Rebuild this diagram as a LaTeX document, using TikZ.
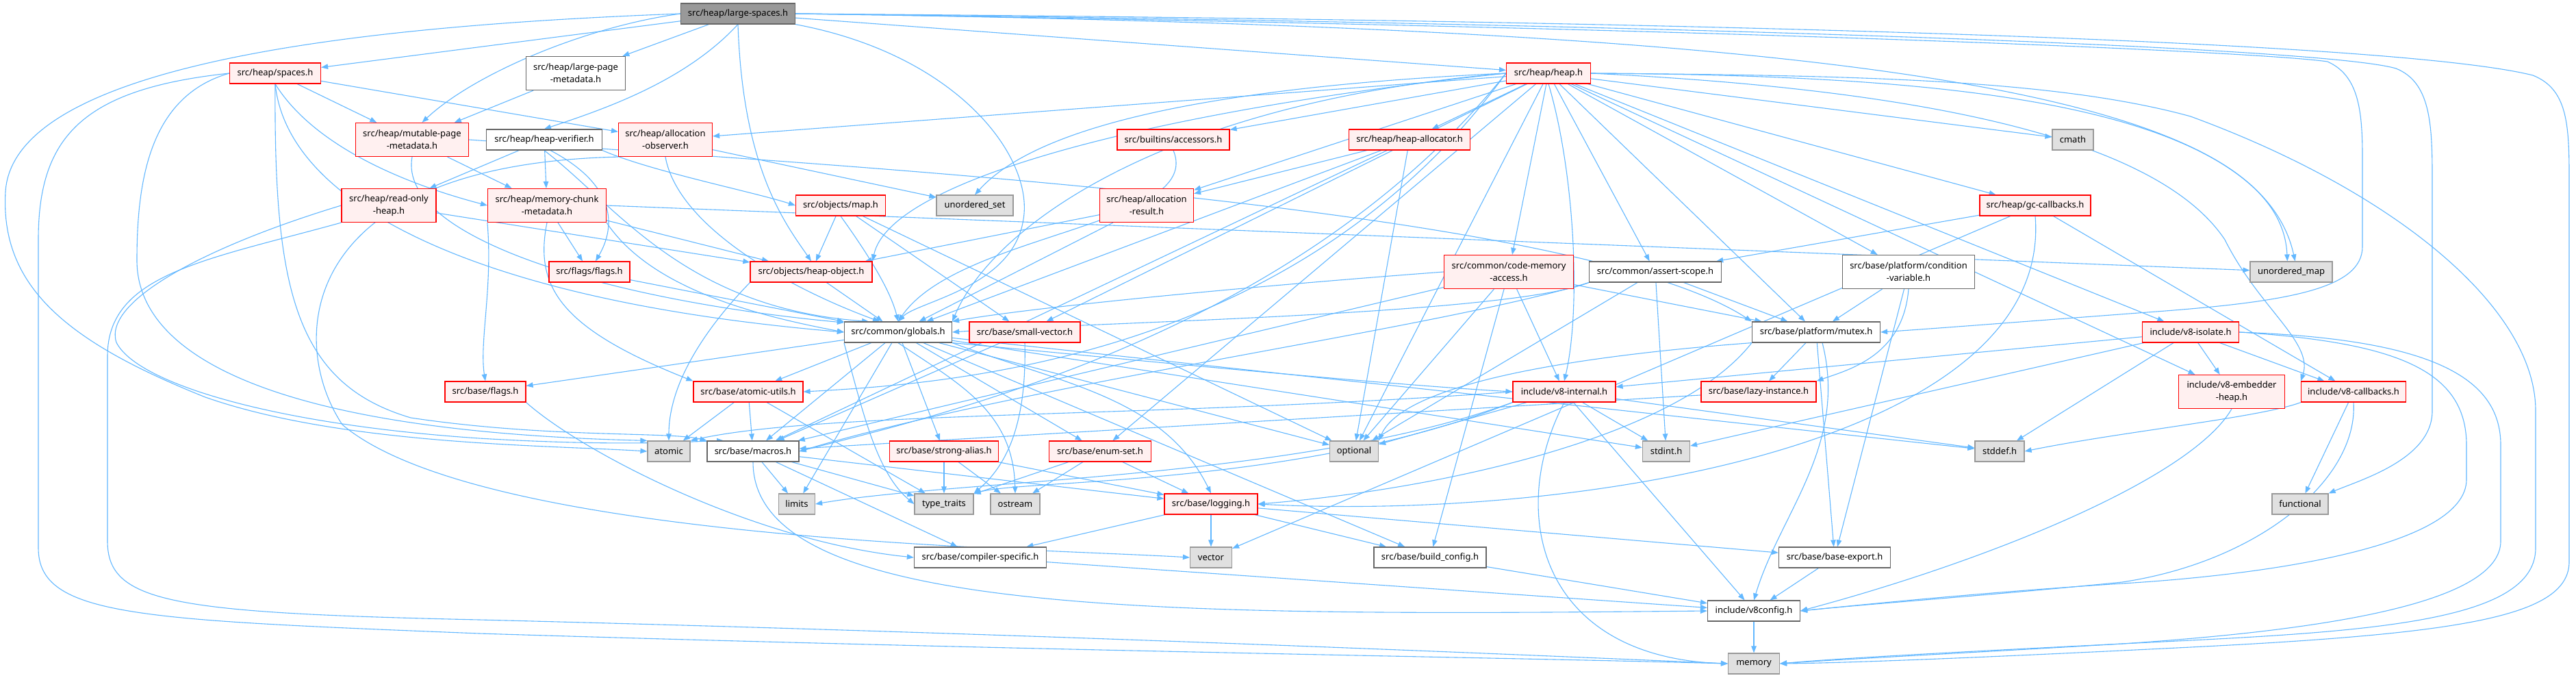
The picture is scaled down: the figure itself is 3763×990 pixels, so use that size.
\documentclass[tikz,border=0pt]{standalone}
\usepackage{fontspec}
\setmainfont{Noto Sans}
\usetikzlibrary{arrows.meta}
\definecolor{edgec}{HTML}{63B8FF}
\definecolor{redfill}{HTML}{FFF0F0}
\definecolor{grayfill}{HTML}{E0E0E0}
\definecolor{grayline}{HTML}{999999}
\definecolor{darkline}{HTML}{666666}
\definecolor{rootfill}{HTML}{999999}
\pgfdeclarelayer{bg}
\pgfsetlayers{bg,main}
\tikzset{
 nb/.style={rectangle, inner sep=0pt, align=center, font=\fontsize{13}{18}\selectfont, line width=1.2pt},
 rbox/.style={nb, draw=red, fill=redfill},
 gbox/.style={nb, draw=grayline, fill=grayfill},
 wbox/.style={nb, draw=darkline, fill=white},
 root/.style={nb, draw=darkline, fill=rootfill},
 e/.style={draw=edgec, line width=1.1pt, -{Triangle[length=10pt,width=7.5pt]}},
}
\begin{document}
\begin{tikzpicture}[x=1pt,y=-1pt]
\useasboundingbox (0,0) rectangle (3763,990);
\node[root,minimum width=167pt,minimum height=30pt] (LS) at (1078,20) {src/heap/large-spaces.h};
\node[rbox,minimum width=133pt,minimum height=30pt] (SP) at (402,107) {src/heap/spaces.h};
\node[wbox,minimum width=145pt,minimum height=49pt] (LPM) at (841,107) {src/heap/large-page\\-metadata.h};
\node[rbox,minimum width=123pt,minimum height=30pt] (HEAP) at (2262,107) {src/heap/heap.h};
\node[rbox,minimum width=165pt,minimum height=49pt] (MPM) at (602,204) {src/heap/mutable-page\\-metadata.h};
\node[wbox,minimum width=169pt,minimum height=30pt] (HV) at (795,204) {src/heap/heap-verifier.h};
\node[rbox,minimum width=137pt,minimum height=49pt] (AO) at (972,204) {src/heap/allocation\\-observer.h};
\node[rbox,minimum width=164pt,minimum height=30pt] (BA) at (1714,204) {src/builtins/accessors.h};
\node[rbox,minimum width=177pt,minimum height=30pt] (HA) at (2059,204) {src/heap/heap-allocator.h};
\node[gbox,minimum width=60pt,minimum height=30pt] (CMATH) at (3028,204) {cmath};
\node[rbox,minimum width=138pt,minimum height=49pt] (ROH) at (568,300) {src/heap/read-only\\-heap.h};
\node[rbox,minimum width=173pt,minimum height=49pt] (MCM) at (799,300) {src/heap/memory-chunk\\-metadata.h};
\node[rbox,minimum width=131pt,minimum height=30pt] (MAP) at (1228,300) {src/objects/map.h};
\node[gbox,minimum width=112pt,minimum height=30pt] (USET) at (1424,300) {unordered\_set};
\node[rbox,minimum width=137pt,minimum height=49pt] (AR) at (1675,300) {src/heap/allocation\\-result.h};
\node[rbox,minimum width=162pt,minimum height=30pt] (GCC) at (2973,300) {src/heap/gc-callbacks.h};
\node[rbox,minimum width=118pt,minimum height=30pt] (FF) at (861,397) {src/flags/flags.h};
\node[rbox,minimum width=178pt,minimum height=30pt] (HO) at (1185,397) {src/objects/heap-object.h};
\node[rbox,minimum width=189pt,minimum height=49pt] (CMA) at (2204,397) {src/common/code-memory\\-access.h};
\node[wbox,minimum width=193pt,minimum height=30pt] (AS) at (2418,397) {src/common/assert-scope.h};
\node[wbox,minimum width=193pt,minimum height=49pt] (CV) at (2788,397) {src/base/platform/condition\\-variable.h};
\node[gbox,minimum width=120pt,minimum height=30pt] (UMAP) at (3347,397) {unordered\_map};
\node[wbox,minimum width=157pt,minimum height=30pt] (GL) at (1312,485) {src/common/globals.h};
\node[rbox,minimum width=162pt,minimum height=30pt] (SV) at (1497,485) {src/base/small-vector.h};
\node[wbox,minimum width=187pt,minimum height=30pt] (MX) at (2653,485) {src/base/platform/mutex.h};
\node[rbox,minimum width=141pt,minimum height=30pt] (ISO) at (3200,485) {include/v8-isolate.h};
\node[rbox,minimum width=118pt,minimum height=30pt] (BF) at (709,572) {src/base/flags.h};
\node[rbox,minimum width=160pt,minimum height=30pt] (AU) at (1093,572) {src/base/atomic-utils.h};
\node[rbox,minimum width=150pt,minimum height=30pt] (V8I) at (2285,572) {include/v8-internal.h};
\node[rbox,minimum width=168pt,minimum height=30pt] (LI) at (2569,572) {src/base/lazy-instance.h};
\node[rbox,minimum width=155pt,minimum height=49pt] (EH) at (3260,572) {include/v8-embedder\\-heap.h};
\node[rbox,minimum width=153pt,minimum height=30pt] (CB) at (3438,572) {include/v8-callbacks.h};
\node[gbox,minimum width=62pt,minimum height=30pt] (ATOMIC) at (977,659) {atomic};
\node[wbox,minimum width=134pt,minimum height=30pt] (MAC) at (1100,659) {src/base/macros.h};
\node[rbox,minimum width=159pt,minimum height=30pt] (SA) at (1379,659) {src/base/strong-alias.h};
\node[rbox,minimum width=149pt,minimum height=30pt] (ES) at (1607,659) {src/base/enum-set.h};
\node[gbox,minimum width=71pt,minimum height=30pt] (OPT) at (1978,659) {optional};
\node[gbox,minimum width=69pt,minimum height=30pt] (STDINT) at (2434,659) {stdint.h};
\node[gbox,minimum width=72pt,minimum height=30pt] (STDDEF) at (2921,659) {stddef.h};
\node[gbox,minimum width=53pt,minimum height=30pt] (LIM) at (1164,736) {limits};
\node[gbox,minimum width=86pt,minimum height=30pt] (TT) at (1379,736) {type\_traits};
\node[gbox,minimum width=72pt,minimum height=30pt] (OST) at (1483,736) {ostream};
\node[rbox,minimum width=136pt,minimum height=30pt] (LOG) at (1769,736) {src/base/logging.h};
\node[gbox,minimum width=82pt,minimum height=30pt] (FUNC) at (3360,736) {functional};
\node[wbox,minimum width=193pt,minimum height=30pt] (CS) at (1432,814) {src/base/compiler-specific.h};
\node[gbox,minimum width=61pt,minimum height=30pt] (VEC) at (1769,814) {vector};
\node[wbox,minimum width=164pt,minimum height=30pt] (BC) at (2089,814) {src/base/build\_config.h};
\node[wbox,minimum width=163pt,minimum height=30pt] (BE) at (2680,814) {src/base/base-export.h};
\node[wbox,minimum width=135pt,minimum height=30pt] (V8C) at (2562,892) {include/v8config.h};
\node[gbox,minimum width=75pt,minimum height=30pt] (MEM) at (2562,969) {memory};

\begin{pgfonlayer}{bg}
\fill[white] (0,0) rectangle (3763,990);
% large-spaces
\draw[e] (LS) -- (SP);
\draw[e] (LS) -- (LPM);
\draw[e] (LS.west) .. controls (850,40) and (690,110) .. (MPM.60);
\draw[e] (LS.south) .. controls (1000,120) and (880,160) .. (HV.north);
\draw[e] (LS) -- (HEAP);
\draw[e] (LS.south) .. controls (1085,250) and (1150,330) .. (HO.north);
\draw[e] (LS.south east) .. controls (1400,80) and (1510,230) .. (1495,320) .. controls (1480,420) and (1340,440) .. (GL.north);
\draw[e] (LS.east) .. controls (2600,40) and (3330,120) .. (UMAP.110);
\draw[e] (LS.west) .. controls (600,35) and (20,80) .. (8,280) .. controls (0,420) and (100,500) .. (300,580) .. controls (500,650) and (800,650) .. (ATOMIC.west);
\draw[e] (LS.east) .. controls (2500,30) and (3500,60) .. (3700,110) .. controls (3750,130) and (3753,180) .. (3753,260) -- (3753,820) .. controls (3753,900) and (3600,925) .. (3200,945) .. controls (2900,960) and (2700,968) .. (MEM.east);
\draw[e] (LS.east) .. controls (2500,35) and (3400,70) .. (3500,100) .. controls (3550,120) and (3553,180) .. (3553,260) -- (3553,600) .. controls (3553,670) and (3450,700) .. (FUNC.north east);
\draw[e] (LS.east) .. controls (2500,40) and (3300,75) .. (3400,90) .. controls (3445,110) and (3451,160) .. (3451,230) -- (3451,360) .. controls (3451,420) and (3350,440) .. (3150,455) .. controls (2950,470) and (2850,478) .. (MX.east);
% spaces
\draw[e] (SP) -- (MPM);
\draw[e] (SP.south) .. controls (450,200) and (560,260) .. (MCM.west);
\draw[e] (SP) -- (AO);
\draw[e] (SP.south) .. controls (420,300) and (700,440) .. (GL.west);
\draw[e] (SP.west) .. controls (220,140) and (200,260) .. (200,380) .. controls (200,520) and (400,630) .. (ATOMIC.north west);
\draw[e] (SP.south) .. controls (400,420) and (430,560) .. (600,610) .. controls (800,640) and (980,630) .. (MAC.north west);
\draw[e] (SP.west) .. controls (120,130) and (56,200) .. (56,350) -- (56,800) .. controls (56,900) and (200,905) .. (700,925) .. controls (1500,950) and (2200,960) .. (MEM.west);
% large-page-metadata
\draw[e] (LPM) -- (MPM);
% mutable-page-metadata
\draw[e] (MPM) -- (MCM);
\draw[e] (MPM.east) .. controls (1200,240) and (2300,300) .. (MX.north west);
\draw[e] (MPM.south) .. controls (580,350) and (900,440) .. (GL.170);
% heap-verifier
\draw[e] (HV) -- (ROH);
\draw[e] (HV) -- (MCM);
\draw[e] (HV.-60) .. controls (900,270) and (900,330) .. (FF.60);
\draw[e] (HV.south east) .. controls (950,250) and (1100,280) .. (MAP.west);
\draw[e] (HV.south) .. controls (900,300) and (1000,450) .. (GL.160);
% allocation-observer
\draw[e] (AO) -- (USET);
\draw[e] (AO.south) .. controls (990,330) and (1150,420) .. (GL.150);
\draw[e] (AO.south west) .. controls (430,240) and (420,500) .. (500,620) .. controls (700,790) and (1500,800) .. (VEC.west);
% read-only-heap
\draw[e] (ROH) -- (HO);
\draw[e] (ROH.west) .. controls (300,360) and (150,440) .. (170,500) .. controls (200,560) and (400,620) .. (700,640) .. controls (900,652) and (1000,645) .. (MAC.160);
\draw[e] (ROH.south west) .. controls (300,380) and (157,400) .. (157,520) -- (157,790) .. controls (157,880) and (250,895) .. (700,905) .. controls (1500,925) and (2200,955) .. (MEM.west);
% memory-chunk-metadata
\draw[e] (MCM) -- (FF);
\draw[e] (MCM) -- (HO);
\draw[e] (MCM.south east) .. controls (950,420) and (1100,460) .. (GL.west);
\draw[e] (MCM.east) -- (UMAP);
\draw[e] (MCM.south west) .. controls (720,420) and (700,500) .. (BF.north);
\draw[e] (MCM.south) .. controls (780,420) and (820,480) .. (AU.north west);
% flags, heap-object, map
\draw[e] (FF) -- (GL);
\draw[e] (HO) -- (GL);
\draw[e] (HO.south west) .. controls (1030,480) and (977,560) .. (ATOMIC.north);
\draw[e] (MAP) -- (HO);
\draw[e] (MAP.south) .. controls (1260,360) and (1300,420) .. (GL.north);
\draw[e] (MAP) -- (SV);
\draw[e] (MAP) -- (OPT);
% accessors, allocation-result, heap-allocator
\draw[e] (BA.south) .. controls (1760,330) and (1400,340) .. (GL.north);
\draw[e] (AR) -- (GL);
\draw[e] (AR) -- (HO);
\draw[e] (HA) -- (AR);
\draw[e] (HA) -- (GL);
\draw[e] (HA) -- (MAC);
\draw[e] (HA) -- (OPT);
% heap
\draw[e] (HEAP) -- (AO);
\draw[e] (HEAP) -- (AR);
\draw[e] (HEAP) -- (BA);
\draw[e] (HEAP) -- (HA);
\draw[e] (HEAP.west) .. controls (1700,130) and (1500,200) .. (USET.north);
\draw[e] (HEAP.west) .. controls (1700,160) and (1300,260) .. (HO.north east);
\draw[e] (HEAP.west) .. controls (1700,150) and (1450,330) .. (GL.north east);
\draw[e] (HEAP) -- (SV);
\draw[e] (HEAP) -- (CMA);
\draw[e] (HEAP) -- (AS);
\draw[e] (HEAP) -- (CV);
\draw[e] (HEAP) -- (MX);
\draw[e] (HEAP) -- (GCC);
\draw[e] (HEAP) -- (CMATH);
\draw[e] (HEAP.east) .. controls (2800,110) and (3300,140) .. (UMAP.70);
\draw[e] (HEAP) -- (ISO);
\draw[e] (HEAP) -- (EH);
\draw[e] (HEAP.east) .. controls (2800,130) and (3150,200) .. (3250,350) .. controls (3300,450) and (3380,500) .. (CB.north west);
\draw[e] (HEAP.south) .. controls (2300,250) and (2310,450) .. (V8I.north);
\draw[e] (HEAP.west) .. controls (1900,520) and (1400,560) .. (AU.east);
\draw[e] (HEAP.west) .. controls (1900,480) and (1400,600) .. (MAC.east);
\draw[e] (HEAP) -- (ES);
\draw[e] (HEAP) -- (OPT);
\draw[e] (HEAP.east) .. controls (2700,110) and (3000,115) .. (3200,170) .. controls (3500,280) and (3704,450) .. (3704,600) -- (3704,800) .. controls (3704,900) and (3500,920) .. (3200,935) .. controls (2900,950) and (2700,960) .. (MEM.east);
% code-memory-access
\draw[e] (CMA.west) .. controls (1800,420) and (1500,450) .. (GL.north east);
\draw[e] (CMA) -- (MX);
\draw[e] (CMA) -- (V8I);
\draw[e] (CMA) -- (OPT);
\draw[e] (CMA) -- (BC);
\draw[e] (CMA) -- (MAC);
% assert-scope
\draw[e] (AS.south west) .. controls (2200,460) and (1600,470) .. (GL.east);
\draw[e] (AS) -- (MX);
\draw[e] (AS.south west) .. controls (2100,480) and (1500,560) .. (MAC.east);
\draw[e] (AS) -- (OPT);
\draw[e] (AS) -- (STDINT);
% condition-variable
\draw[e] (CV) -- (MX);
\draw[e] (CV.south) .. controls (2780,520) and (2700,540) .. (LI.north east);
\draw[e] (CV) -- (BE);
% gc-callbacks
\draw[e] (GCC) -- (AS);
\draw[e] (GCC) -- (CB);
\draw[e] (GCC) -- (VEC);
\draw[e] (GCC.south) .. controls (3000,650) and (2300,760) .. (LOG.east);
% v8-isolate
\draw[e] (ISO) -- (V8I);
\draw[e] (ISO) -- (CB);
\draw[e] (ISO) -- (EH);
\draw[e] (ISO) -- (STDDEF);
\draw[e] (ISO) -- (STDINT);
\draw[e] (ISO.east) .. controls (3500,500) and (3603,540) .. (3603,650) -- (3603,700) .. controls (3603,800) and (3300,840) .. (3100,852) .. controls (2900,865) and (2750,880) .. (V8C.east);
\draw[e] (ISO.east) .. controls (3550,495) and (3653,550) .. (3653,650) -- (3653,790) .. controls (3653,880) and (3400,920) .. (3100,940) .. controls (2900,952) and (2700,962) .. (MEM.east);
% v8-callbacks, embedder-heap
\draw[e] (CB.south west) .. controls (3300,610) and (3100,630) .. (STDDEF.east);
\draw[e] (CB) -- (FUNC);
\draw[e] (CB.south) .. controls (3445,700) and (3300,820) .. (3100,850) .. controls (2900,870) and (2750,880) .. (V8C.east);
\draw[e] (EH.south) .. controls (3200,700) and (2900,820) .. (V8C.east);
% mutex
\draw[e] (MX) -- (LI);
\draw[e] (MX) -- (BE);
\draw[e] (MX.south west) .. controls (2450,640) and (2100,715) .. (LOG.east);
\draw[e] (MX.south west) .. controls (2300,520) and (2050,560) .. (OPT.north east);
\draw[e] (MX.-60) .. controls (2700,650) and (2600,750) .. (V8C.north);
% lazy-instance
\draw[e] (LI) -- (MAC);
% globals
\draw[e] (GL) -- (BF);
\draw[e] (GL) -- (AU);
\draw[e] (GL) -- (MAC);
\draw[e] (GL) -- (SA);
\draw[e] (GL) -- (ES);
\draw[e] (GL.south east) .. controls (1600,520) and (2000,560) .. (V8I.west);
\draw[e] (GL.south east) .. controls (1550,560) and (1700,580) .. (LOG.north);
\draw[e] (GL) -- (BC);
\draw[e] (GL.south) .. controls (1400,560) and (1480,600) .. (OST.north);
\draw[e] (GL.south west) .. controls (1260,600) and (1280,690) .. (TT.west);
\draw[e] (GL) -- (STDDEF);
\draw[e] (GL) -- (STDINT);
\draw[e] (GL) -- (OPT);
\draw[e] (GL) -- (LIM);
% small-vector, atomic-utils, base/flags
\draw[e] (SV) -- (MAC);
\draw[e] (SV.south) .. controls (1500,620) and (1470,680) .. (TT.north east);
\draw[e] (AU) -- (ATOMIC);
\draw[e] (AU) -- (MAC);
\draw[e] (AU) -- (TT);
\draw[e] (BF.south east) .. controls (850,660) and (1100,790) .. (CS.west);
% macros
\draw[e] (MAC) -- (LIM);
\draw[e] (MAC) -- (TT);
\draw[e] (MAC) -- (CS);
\draw[e] (MAC) -- (LOG);
\draw[e] (MAC.south) .. controls (1100,900) and (1700,900) .. (V8C.west);
% strong-alias, enum-set
\draw[e] (SA) -- (TT);
\draw[e] (SA) -- (OST);
\draw[e] (SA) -- (LOG);
\draw[e] (ES) -- (TT);
\draw[e] (ES) -- (OST);
\draw[e] (ES) -- (LOG);
% logging
\draw[e] (LOG) -- (VEC);
\draw[e] (LOG) -- (CS);
\draw[e] (LOG) -- (BC);
\draw[e] (LOG) -- (BE);
% leaves to v8config
\draw[e] (CS) -- (V8C);
\draw[e] (BC) -- (V8C);
\draw[e] (BE) -- (V8C);
\draw[e] (V8C) -- (MEM);
% v8-internal
\draw[e] (V8I) -- (STDDEF);
\draw[e] (V8I) -- (STDINT);
\draw[e] (V8I) -- (OPT);
\draw[e] (V8I.west) .. controls (1700,610) and (1200,600) .. (ATOMIC.north east);
\draw[e] (V8I.south west) .. controls (1900,700) and (1400,700) .. (LIM.east);
\draw[e] (V8I.south west) .. controls (1900,710) and (1500,700) .. (TT.north east);
\draw[e] (V8I.south) .. controls (2200,750) and (2250,960) .. (MEM.west);
\draw[e] (V8I) -- (V8C);
\end{pgfonlayer}
\end{tikzpicture}
\end{document}
